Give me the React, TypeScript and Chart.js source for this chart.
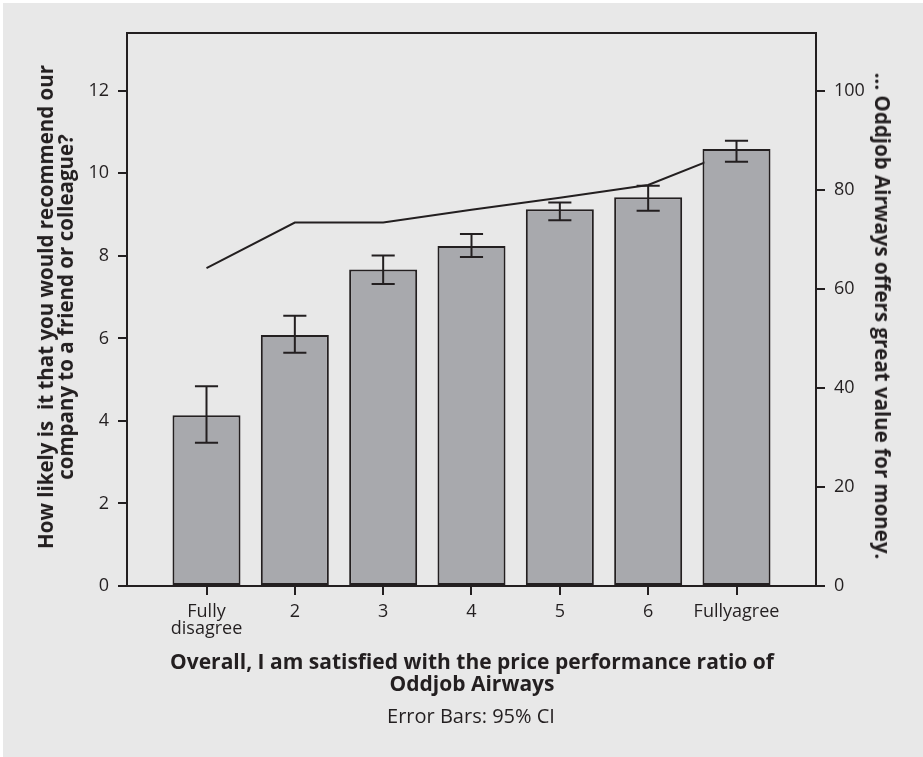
import React, { useEffect, useRef } from "react";
import { Chart, registerables } from "chart.js";

Chart.register(...registerables);

// ---- data ----
const categoryLabels: (string | string[])[] = [["Fully", "disagree"], "2", "3", "4", "5", "6", "Fullyagree"];
const meanRecommend = [4.14, 6.08, 7.67, 8.24, 9.13, 9.42, 10.59];
const ciLower = [3.47, 5.65, 7.32, 7.97, 8.86, 9.09, 10.28];
const ciUpper = [4.84, 6.55, 8.01, 8.53, 9.29, 9.7, 10.79];
const valueForMoney = [64.2, 73.4, 73.4, 76.0, 78.4, 81.0, 88.1];
const leftTicks = [0, 2, 4, 6, 8, 10, 12];
const rightTicks = [0, 20, 40, 60, 80, 100];

const leftTitleLines = ["How likely is  it that you would recommend our", "company to a friend or colleague?"];
const rightTitle = "... Oddjob Airways offers great value for money.";
const xTitleLines = ["Overall, I am satisfied with the price performance ratio of", "Oddjob Airways"];
const footnote = "Error Bars: 95% CI";

// ---- styles ----
const INK = "#231f20";
const BG = "#e8e8e8";
const BAR = "#a8a9ad";
const FONT = '"Open Sans", "Noto Sans", sans-serif';

const errorBarPlugin = {
  id: "errorBars",
  afterDatasetsDraw(chart: any) {
    const meta = chart.getDatasetMeta(0);
    const yScale = chart.scales.y;
    const ctx = chart.ctx;
    ctx.save();
    ctx.strokeStyle = INK;
    ctx.lineWidth = 2;
    meta.data.forEach((bar: any, i: number) => {
      const x = bar.x;
      const half = bar.width * 0.17;
      const yl = yScale.getPixelForValue(ciLower[i]);
      const yu = yScale.getPixelForValue(ciUpper[i]);
      ctx.beginPath();
      ctx.moveTo(x, yl);
      ctx.lineTo(x, yu);
      ctx.moveTo(x - half, yl);
      ctx.lineTo(x + half, yl);
      ctx.moveTo(x - half, yu);
      ctx.lineTo(x + half, yu);
      ctx.stroke();
    });
    ctx.restore();
  },
};

const frameTopPlugin = {
  id: "frameTop",
  afterDraw(chart: any) {
    const { ctx, chartArea: a } = chart;
    ctx.save();
    ctx.strokeStyle = INK;
    ctx.lineWidth = 2;
    ctx.beginPath();
    ctx.moveTo(a.left - 1, a.top);
    ctx.lineTo(a.right + 1, a.top);
    ctx.stroke();
    ctx.restore();
  },
};

function TextBlock(props: {
  cx: number;
  cy: number;
  angle?: number;
  size: number;
  weight?: number;
  lineHeight: number;
  lines: string[];
}) {
  const { cx, cy, angle = 0, size, weight = 400, lineHeight, lines } = props;
  return (
    <div
      style={{
        position: "absolute",
        left: cx,
        top: cy,
        transform: `translate(-50%, -50%) rotate(${angle}deg)`,
        fontFamily: FONT,
        fontSize: size,
        fontWeight: weight,
        lineHeight: `${lineHeight}px`,
        color: INK,
        whiteSpace: "pre",
        textAlign: "center",
      }}
    >
      {lines.join("\n")}
    </div>
  );
}

export default function App() {
  const ref = useRef<HTMLCanvasElement>(null);

  useEffect(() => {
    const tickFont = { family: FONT, size: 18, lineHeight: 0.95 };
    const grid = {
      display: true,
      offset: false,
      drawOnChartArea: false,
      drawTicks: true,
      tickLength: 9,
      color: INK,
      lineWidth: 2,
    };
    const border = { display: true, color: INK, width: 2 };

    const chart = new Chart(ref.current as HTMLCanvasElement, {
      type: "bar",
      data: {
        datasets: [
          {
            type: "bar",
            label: "recommend",
            data: meanRecommend.map((v, i) => ({ x: i, y: v })),
            xAxisID: "x",
            yAxisID: "y",
            backgroundColor: BAR,
            borderColor: INK,
            borderWidth: 2,
            borderSkipped: false,
            barPercentage: 0.77,
            categoryPercentage: 1,
            order: 0,
          } as any,
          {
            type: "line",
            label: "value",
            data: valueForMoney.map((v, i) => ({ x: i, y: v })),
            xAxisID: "x",
            yAxisID: "y2",
            borderColor: INK,
            borderWidth: 2,
            pointRadius: 0,
            tension: 0,
            fill: false,
            order: 1,
          } as any,
        ],
      },
      options: {
        responsive: false,
        maintainAspectRatio: false,
        animation: false,
        layout: { padding: { top: 33, left: 0, right: 0, bottom: 0 } },
        plugins: { legend: { display: false }, tooltip: { enabled: false } },
        scales: {
          x: {
            type: "linear",
            position: "bottom",
            min: -0.9,
            max: 6.9,
            offset: false,
            afterBuildTicks: (s: any) => {
              s.ticks = categoryLabels.map((_, i) => ({ value: i }));
            },
            afterFit: (s: any) => {
              s.height = 171;
            },
            ticks: {
              autoSkip: false,
              maxRotation: 0,
              minRotation: 0,
              color: INK,
              padding: 8,
              font: tickFont,
              callback: (v: any) => categoryLabels[v as number] ?? "",
            },
            grid,
            border,
          } as any,
          y: {
            type: "linear",
            position: "left",
            min: 0,
            max: 13.4,
            afterBuildTicks: (s: any) => {
              s.ticks = leftTicks.map((v) => ({ value: v }));
            },
            afterFit: (s: any) => {
              s.width = 127;
            },
            ticks: { color: INK, padding: 9, font: tickFont },
            grid,
            border,
          } as any,
          y2: {
            type: "linear",
            position: "right",
            min: 0,
            max: 111.7,
            afterBuildTicks: (s: any) => {
              s.ticks = rightTicks.map((v) => ({ value: v }));
            },
            afterFit: (s: any) => {
              s.width = 107;
            },
            ticks: { color: INK, padding: 9, font: tickFont },
            grid,
            border,
          } as any,
        },
      },
      plugins: [errorBarPlugin, frameTopPlugin],
    });
    return () => chart.destroy();
  }, []);

  return (
    <div
      style={{
        position: "absolute",
        left: 0,
        top: 0,
        width: 923,
        height: 757,
        background: "#ffffff",
        overflow: "hidden",
      }}
    >
      <div style={{ position: "absolute", left: 3, top: 3, right: 0, bottom: 0, background: BG }} />
      <canvas
        ref={ref}
        width={923}
        height={757}
        style={{ position: "absolute", left: 0, top: 0, width: 923, height: 757 }}
      />
      <TextBlock cx={55} cy={307} angle={-90} size={20.5} weight={700} lineHeight={20} lines={leftTitleLines} />
      <TextBlock cx={883} cy={316} angle={90} size={20.5} weight={700} lineHeight={24} lines={[rightTitle]} />
      <TextBlock cx={472} cy={672} size={21} weight={700} lineHeight={21.5} lines={xTitleLines} />
      <TextBlock cx={471} cy={716} size={20} weight={400} lineHeight={24} lines={[footnote]} />
    </div>
  );
}
